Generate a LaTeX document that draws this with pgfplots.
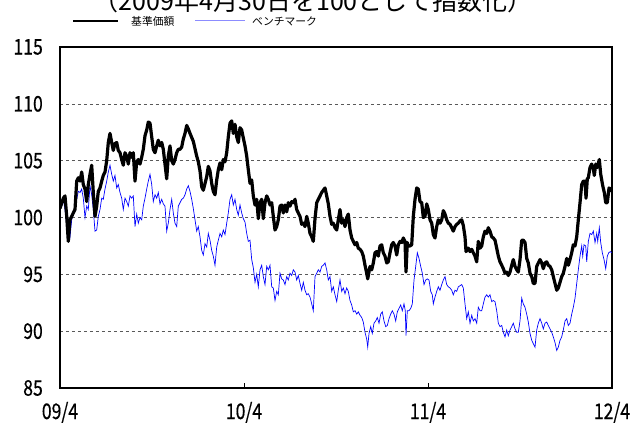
\documentclass[border=0pt]{standalone}
\usepackage{pgfplots}
\pgfplotsset{compat=1.18}
\usepackage{fontspec}
\setmainfont{Noto Sans CJK JP}
\newfontfamily\tickfont{Noto Sans CJK JP}[FakeStretch=0.82, FakeBold=0.4]
\definecolor{bench}{RGB}{0,0,255}
\definecolor{benchleg}{RGB}{140,140,255}
\begin{document}
\begin{tikzpicture}[x=1bp,y=1bp]
\useasboundingbox (0,0) rectangle (634,423);
\node[anchor=base, inner sep=0pt, font=\fontsize{25bp}{25bp}\selectfont] at (313,412) {（2009年4月30日を100として指数化）};
\draw[line width=2.8bp] (73,402) -- (118,402);
\node[anchor=west, inner sep=0pt, font=\fontsize{10.8bp}{11bp}\selectfont] at (131,402) {基準価額};
\draw[benchleg, line width=1bp] (195,402) -- (245,402);
\node[anchor=west, inner sep=0pt, font=\fontsize{10.8bp}{11bp}\selectfont] at (252,402) {ベンチマーク};
\begin{axis}[at={(60bp,35bp)}, anchor=south west, scale only axis,
  width=552bp, height=341bp,
  xmin=60, xmax=612, ymin=85, ymax=115,
  xtick={60,244,428,612}, xticklabels={09/4,10/4,11/4,12/4},
  ytick={85,90,95,100,105,110,115}, yticklabels={85,90,95,100,105,110,115},
  tick label style={font=\tickfont\fontsize{21.5bp}{22bp}\selectfont},
  xticklabel style={anchor=base, inner sep=0pt, yshift=-31bp},
  yticklabel style={anchor=east, inner sep=0pt, xshift=-17bp},
  tick align=inside, xtick pos=bottom, ytick pos=left,
  major tick length=5bp,
  xtick style={line width=0.5bp, black},
  ytick style={draw=none},
  ymajorgrids, grid style={dashed, black!65, line width=0.6bp},
  axis line style={line width=1.6bp},
  clip=true,
]
\addplot[bench, line width=0.7bp] coordinates {
(60,100.9)(61.7,101.0)(63.3,101.6)(65,100.7)(66.7,99.4)(68.3,99.1)(70,98.3)(71.7,99.8)(73.3,100.4)(75,100.6)(76.7,101.6)(78.3,102.3)(80,102.2)(81.7,102.5)(83.3,101.7)(85,100.0)(86.7,101.0)(88.3,100.7)(90,102.8)(91.7,102.0)(93.3,100.7)(95,98.8)(96.7,98.9)(98.3,100.1)(100,100.7)(101.7,101.7)(103.3,101.6)(105,102.5)(106.7,103.2)(108.3,104.0)(110,104.6)(111.7,103.8)(113.3,103.2)(115,103.7)(116.7,102.6)(118.3,102.9)(120,102.2)(121.7,101.7)(123.3,100.7)(125,101.7)(126.7,101.4)(128.3,101.0)(130,101.9)(131.7,101.7)(133.3,101.9)(135,99.2)(136.7,100.3)(138.3,99.5)(140,100.0)(141.7,99.8)(143.3,101.0)(145,101.7)(146.7,102.5)(148.3,103.2)(150,103.8)(151.7,102.9)(153.3,101.4)(155,102.0)(156.7,101.7)(158.3,102.2)(160,101.2)(161.7,101.6)(163.3,101.2)(165,101.0)(166.7,98.8)(168.3,99.5)(170,100.7)(171.7,101.6)(173.3,100.4)(175,99.5)(176.7,99.2)(178.3,101.0)(180,101.3)(181.7,101.6)(183.3,101.7)(185,102.0)(186.7,102.5)(188.3,102.8)(190,102.3)(191.7,101.6)(193.3,100.8)(195,99.8)(196.7,98.8)(198.3,99.2)(200,98.3)(201.7,97.1)(203.3,96.7)(205,97.7)(206.7,97.4)(208.3,98.6)(210,98.0)(211.7,97.1)(213.3,96.6)(215,95.8)(216.7,97.4)(218.3,98.0)(220,98.6)(221.7,98.3)(223.3,98.9)(225,98.5)(226.7,99.5)(228.3,100.4)(230,101.6)(231.7,102.0)(233.3,101.1)(235,101.6)(236.7,100.7)(238.3,100.2)(240,101.1)(241.7,100.4)(243.3,99.9)(245,99.6)(246.7,98.6)(248.3,97.9)(250,98.0)(251.7,96.3)(253.3,95.6)(255,94.3)(256.7,95.0)(258.3,93.9)(260,95.4)(261.7,95.8)(263.3,94.8)(265,94.1)(266.7,95.7)(268.3,95.4)(270,95.8)(271.7,93.9)(273.3,93.8)(275,92.7)(276.7,93.5)(278.3,93.2)(280,95.1)(281.7,94.6)(283.3,94.5)(285,94.1)(286.7,94.8)(288.3,94.5)(290,95.1)(291.7,94.9)(293.3,95.4)(295,95.2)(296.7,94.5)(298.3,94.9)(300,94.2)(301.7,93.6)(303.3,94.3)(305,93.6)(306.7,93.2)(308.3,93.3)(310,93.0)(311.7,92.4)(313.3,91.8)(315,94.8)(316.7,95.1)(318.3,95.4)(320,95.2)(321.7,95.7)(323.3,95.8)(325,96.0)(326.7,95.4)(328.3,94.5)(330,94.8)(331.7,93.5)(333.3,93.9)(335,93.2)(336.7,92.6)(338.3,93.6)(340,94.5)(341.7,93.5)(343.3,93.8)(345,93.3)(346.7,93.8)(348.3,93.5)(350,92.7)(351.7,92.3)(353.3,91.7)(355,91.8)(356.7,91.5)(358.3,91.7)(360,91.4)(361.7,91.2)(363.3,90.8)(365,89.9)(366.7,89.3)(367.7,88.6)(369,89.8)(370.7,90.4)(372.3,89.8)(374,90.7)(375.7,90.9)(377.3,91.2)(379,90.7)(380.7,91.5)(382.3,91.7)(384,90.9)(385.7,90.4)(387.3,90.5)(389,91.1)(390.7,91.5)(392.3,91.8)(394,91.5)(395.7,90.9)(397.3,91.7)(399,92.0)(400.7,92.3)(402.3,91.8)(404,92.4)(405.3,91.8)(406,89.6)(407.3,91.8)(409,91.8)(410.7,92.0)(412.3,92.4)(414,94.5)(415.7,95.7)(417.3,96.9)(419,96.4)(420.7,95.7)(422.3,95.1)(424,94.1)(425.7,94.5)(427.3,94.6)(429,94.5)(430.7,93.5)(432.3,93.2)(433.3,92.4)(435,93.0)(436.7,93.5)(438.3,93.9)(440,93.6)(441.7,94.1)(443.3,94.5)(445,94.8)(446.7,94.1)(448.3,93.9)(450,93.8)(451.7,93.6)(453.3,93.2)(455,93.6)(456.7,93.5)(458.3,93.9)(460,94.0)(461.7,94.1)(463.3,93.8)(465,92.4)(466.7,91.1)(468.3,91.7)(470,90.7)(471.7,91.4)(473.3,90.9)(475,91.1)(476.7,90.7)(478.3,92.1)(480,91.8)(481.7,91.8)(483.3,92.4)(485,93.0)(486.7,93.2)(488.3,93.0)(490,93.2)(491.7,92.6)(493.3,92.7)(495,92.6)(496.7,91.8)(498.3,90.7)(500,90.4)(501.7,90.5)(503.3,89.9)(505,89.5)(506.7,90.1)(508.3,89.6)(510,90.1)(511.7,90.4)(513.3,90.7)(515,90.2)(516.7,89.9)(518.3,89.9)(520,90.9)(521.7,92.9)(523.3,92.4)(525,92.1)(526.7,91.5)(528.3,90.8)(530,89.8)(531.7,89.2)(533.3,88.9)(535,88.6)(536.7,90.1)(538.3,90.7)(540,91.1)(541.7,90.7)(543.3,90.2)(545,90.7)(546.7,90.8)(548.3,90.5)(550,90.2)(551.7,89.9)(553.3,89.5)(555,89.0)(556.7,88.3)(558.3,88.6)(560,89.2)(561.7,89.5)(563.3,90.1)(565,90.9)(566.7,91.1)(568.3,90.5)(570,90.7)(571.7,91.5)(573.3,92.1)(575,92.9)(576.7,94.2)(578.3,95.4)(580,96.6)(581.7,97.5)(582.7,96.6)(584,97.6)(585.7,97.5)(586.7,96.1)(588.3,97.9)(590,98.6)(591.7,98.5)(593.3,98.8)(595,97.8)(596.7,98.6)(597.7,97.9)(599.3,99.1)(600.7,97.8)(602.3,96.9)(604,96.3)(605.7,95.5)(607.3,96.6)(608.7,96.9)(610.3,97.0)(611.7,96.9)
};
\addplot[black, line width=3.2bp, line join=round] coordinates {
(60,100.8)(63.3,101.7)(65,101.9)(66.7,100.1)(68.3,97.9)(70,99.8)(71.7,100.1)(73.3,100.4)(75,100.7)(76.7,103.2)(78.3,103.5)(80,103.2)(81.7,104.0)(83.3,102.9)(85,102.5)(86.7,101.4)(88.3,102.9)(90,103.8)(91.7,104.6)(93.3,102.2)(95,100.1)(96.7,101.0)(98.3,102.3)(100,102.6)(101.7,103.2)(103.3,103.7)(105,104.0)(106.7,105.0)(108.3,106.6)(110,107.4)(111.7,106.6)(113.3,105.9)(115,106.5)(116.7,106.6)(118.3,105.9)(120,105.7)(121.7,105.1)(123.3,104.6)(125,105.7)(126.7,105.4)(128.3,104.7)(130,105.7)(131.7,105.3)(133.3,105.7)(135,103.2)(136.7,104.9)(138.3,105.1)(140,104.7)(141.7,105.3)(143.3,106.0)(145,107.2)(146.7,107.7)(148.3,108.4)(150,108.3)(151.7,107.1)(153.3,106.0)(155,105.7)(156.7,106.3)(158.3,106.8)(160,106.3)(161.7,106.6)(163.3,106.0)(165,104.7)(166.7,103.4)(168.3,105.4)(170,106.3)(171.7,105.0)(173.3,104.7)(175,105.1)(176.7,105.7)(178.3,106.0)(180,106.0)(181.7,106.2)(183.3,106.9)(185,107.4)(186.7,108.1)(188.3,107.8)(190,107.4)(193.3,106.7)(196.7,105.4)(198.3,104.9)(200,104.1)(201.7,102.7)(203.3,102.4)(205,103.0)(206.7,103.6)(208.3,104.5)(210,104.1)(211.7,103.0)(213.3,102.3)(215,102.0)(216.7,103.3)(218.3,104.2)(220,104.8)(221.7,104.2)(223.3,105.1)(225,104.9)(226.7,105.7)(228.3,107.1)(230,108.3)(231.7,108.5)(233.3,107.4)(235,108.2)(236.7,107.1)(238.3,106.6)(240,107.9)(241.7,107.7)(243.3,107.0)(245,106.3)(246.7,105.4)(248.3,104.2)(250,103.0)(251.7,103.3)(253.3,101.9)(255,101.1)(256.7,101.6)(258.3,99.9)(260,101.3)(261.7,101.6)(263.3,99.9)(265,101.3)(266.7,101.9)(268.3,101.6)(270,101.1)(271.7,101.3)(273.3,100.1)(275,98.9)(276.7,99.2)(278.3,99.8)(280,101.0)(281.7,101.1)(283.3,100.4)(285,101.1)(286.7,100.5)(288.3,101.3)(290,101.0)(291.7,101.4)(293.3,101.3)(295,101.6)(296.7,100.7)(298.3,100.4)(300,100.1)(301.7,99.4)(303.3,99.5)(305,99.2)(306.7,100.1)(308.3,99.5)(310,98.6)(311.7,98.3)(313.3,97.9)(315,99.9)(316.7,101.3)(318.3,101.6)(320,101.9)(321.7,102.2)(323.3,102.4)(325,102.6)(326.7,101.9)(328.3,101.2)(330,100.1)(331.7,99.4)(333.3,99.5)(335,99.1)(336.7,98.9)(338.3,99.8)(340,100.7)(341.7,99.5)(343.3,99.8)(345,99.2)(346.7,100.0)(348.3,100.3)(350,98.9)(351.7,98.2)(353.3,97.9)(355,97.6)(356.7,97.8)(358.3,97.3)(360,97.2)(361.7,97.0)(363.3,96.6)(365,95.8)(366.7,95.1)(367.7,94.6)(370,95.7)(371.7,95.4)(373.3,96.0)(375,96.9)(376.7,97.0)(378.3,96.6)(380,97.5)(381.7,97.6)(383.3,96.9)(385,96.6)(386.7,96.0)(388.3,96.1)(390,96.9)(391.7,97.6)(393.3,97.8)(395,97.5)(396.7,96.7)(398.3,97.6)(400,97.9)(401.7,97.8)(403.3,98.2)(405,97.9)(406,95.2)(407.3,97.8)(408.3,97.5)(410,97.5)(411.7,97.6)(413.3,100.1)(415,101.6)(416.7,102.6)(418.3,102.5)(420,101.4)(421.7,101.3)(423.3,100.0)(425,100.1)(426.7,101.2)(428.3,100.7)(430,99.8)(431.7,99.5)(433.3,98.5)(435,98.2)(436.7,99.2)(438.3,99.8)(440,99.5)(441.7,99.8)(443.3,100.6)(445,100.3)(446.7,99.8)(448.3,99.5)(450,99.4)(451.7,99.1)(453.3,98.8)(455,99.2)(456.7,99.4)(458.3,99.5)(460,99.7)(461.7,99.8)(463.3,99.3)(465,98.3)(466,97.0)(468.3,97.3)(470,97.0)(471.7,97.2)(473.3,96.9)(475,96.6)(476.7,96.1)(478.3,97.9)(480,97.3)(481.7,97.5)(483.3,98.3)(485,98.8)(486.7,98.6)(488.3,99.1)(490,98.8)(491.7,98.3)(493.3,98.2)(495,98.0)(496.7,97.3)(498.3,96.6)(500,96.1)(501.7,95.8)(503.3,95.5)(505,95.1)(506.7,95.2)(508.3,94.9)(510,95.2)(511.7,95.8)(513.3,96.3)(515,95.7)(516.7,95.4)(518.3,95.2)(520,96.3)(521.7,98.0)(523.3,98.0)(525,97.8)(526.7,96.4)(528.3,96.0)(530,95.1)(531.7,94.8)(533.3,94.2)(535,94.2)(536.7,95.7)(538.3,96.0)(540,96.3)(541.7,96.0)(543.3,95.5)(545,96.0)(546.7,96.1)(548.3,95.8)(550,95.7)(551.7,95.4)(553.3,94.8)(555,94.2)(556.7,93.6)(558.3,93.8)(560,94.3)(561.7,94.8)(563.3,95.1)(565,95.7)(566.7,96.4)(568.3,95.8)(570,96.3)(571.7,96.9)(573.3,97.6)(575,97.5)(576.7,98.3)(578.3,99.8)(580,101.3)(581.7,102.9)(583.3,103.2)(585,103.2)(586,101.7)(587.3,103.4)(588.3,103.5)(590,104.4)(591.7,104.7)(593.3,104.3)(594.3,103.7)(595.7,104.7)(597.3,104.4)(599.3,105.1)(600.7,103.8)(602.7,102.8)(604.3,102.2)(605.7,101.3)(607.3,101.3)(609,102.6)(610.7,102.5)(612,102.3)
};
\end{axis}
\end{tikzpicture}
\end{document}
